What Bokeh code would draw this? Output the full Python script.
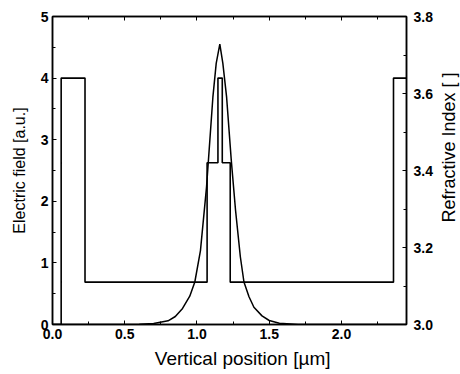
import math
from bokeh.plotting import figure
from bokeh.layouts import row
from bokeh.models import Range1d, LinearAxis, FixedTicker, CustomJSTickFormatter
from bokeh.core.properties import value
from bokeh.embed import file_html
from bokeh.resources import INLINE

# Electric field profile (left axis, a.u.)
field_x = [0.0, 0.5, 0.6, 0.7, 0.8, 0.85, 0.9, 0.95, 0.985, 1.024, 1.066, 1.11, 1.133, 1.158,
           1.179, 1.205, 1.2375, 1.267, 1.30, 1.325, 1.36, 1.394, 1.45, 1.5, 1.57, 1.7, 2.45]
field_y = [0.0, 0.0, 0.005, 0.015, 0.06, 0.13, 0.26, 0.46, 0.69, 1.2, 2.23, 3.69, 4.24, 4.55,
           4.24, 3.69, 2.66, 1.85, 1.1, 0.69, 0.45, 0.28, 0.14, 0.065, 0.02, 0.0, 0.0]

# Refractive index profile (right axis), step boundaries and levels
index_x = [0.0, 0.06, 0.06, 0.225, 0.225, 1.07, 1.07, 1.145, 1.145, 1.175, 1.175, 1.23, 1.23,
           2.36, 2.36, 2.45]
index_n = [3.0, 3.0, 3.64, 3.64, 3.11, 3.11, 3.42, 3.42, 3.64, 3.64, 3.42, 3.42, 3.11,
           3.11, 3.64, 3.64]

x_ticks = [0.0, 0.5, 1.0, 1.5, 2.0]
x_minor = [0.25, 0.75, 1.25, 1.75, 2.25]
left_ticks = [0, 1, 2, 3, 4, 5]
right_ticks = [3.0, 3.2, 3.4, 3.6, 3.8]

x_title = "Vertical position [µm]"
left_title = "Electric field [a.u.]"
right_title = "Refractive Index [ ]"

FONT = "Liberation Sans"
PAD = "\u00a0"

p = figure(width=436, height=374, output_backend="svg", toolbar_location=None,
           x_range=Range1d(0.0, 2.45), y_range=Range1d(0, 5),
           x_axis_location=None, y_axis_location=None,
           min_border_left=52, min_border_right=30, min_border_top=16, min_border_bottom=50)
p.extra_y_ranges = {"n": Range1d(3.0, 3.8)}
p.xgrid.visible = False
p.ygrid.visible = False
p.outline_line_color = "black"
p.outline_line_width = 1.5
p.background_fill_color = "white"
p.border_fill_color = "white"

p.line(field_x, field_y, line_color="black", line_width=1.5)
p.line(index_x, index_n, line_color="black", line_width=1.6, y_range_name="n")

bottom = LinearAxis(ticker=FixedTicker(ticks=x_ticks, minor_ticks=x_minor),
                    formatter=CustomJSTickFormatter(code="return tick.toFixed(1);"))
left = LinearAxis(ticker=FixedTicker(ticks=left_ticks, minor_ticks=[0.5, 1.5, 2.5, 3.5, 4.5]),
                  formatter=CustomJSTickFormatter(code="return tick.toFixed(0);"))
right = LinearAxis(y_range_name="n",
                   ticker=FixedTicker(ticks=right_ticks, minor_ticks=[3.1, 3.3, 3.5, 3.7]),
                   formatter=CustomJSTickFormatter(code="return tick.toFixed(1);"))
top = LinearAxis(ticker=FixedTicker(ticks=x_ticks, minor_ticks=x_minor),
                 formatter=CustomJSTickFormatter(code="return '';"))
p.add_layout(bottom, "below")
p.add_layout(left, "left")
p.add_layout(right, "right")
p.add_layout(top, "above")

for ax in [bottom, left, right, top]:
    ax.major_tick_in = 4
    ax.major_tick_out = 0
    ax.minor_tick_in = 3
    ax.minor_tick_out = 0
    ax.axis_line_color = "black"
    ax.axis_line_width = 1.5
    ax.major_tick_line_color = "black"
    ax.minor_tick_line_color = "black"
    ax.major_label_text_font = FONT
    ax.major_label_text_font_style = "bold"
    ax.major_label_text_font_size = "14px"
    ax.major_label_text_color = "black"
    ax.axis_label_text_font = FONT
    ax.axis_label_text_font_style = "normal"
    ax.axis_label_text_color = "black"
    ax.major_label_standoff = 4

top.major_label_text_font_size = "0px"
top.major_label_standoff = 0

bottom.axis_label = PAD * 5 + x_title
bottom.axis_label_text_font_size = "19px"
bottom.axis_label_standoff = 6

left.axis_label = left_title
left.axis_label_text_font_size = "16px"
left.axis_label_standoff = 10

right.major_label_standoff = 7

# narrow strip to the right carrying the right-axis title (reads bottom-to-top)
t = figure(width=24, height=374, output_backend="svg", toolbar_location=None,
           x_range=Range1d(0, 1), y_range=Range1d(0, 374),
           x_axis_location=None, y_axis_location=None,
           min_border_left=0, min_border_right=0, min_border_top=0, min_border_bottom=0)
t.xgrid.visible = False
t.ygrid.visible = False
t.outline_line_color = None
t.background_fill_color = "white"
t.border_fill_color = "white"
t.text(x=[0.54], y=[215.0], text=[right_title], angle=math.pi / 2,
       text_align="center", text_baseline="middle", text_color="black",
       text_font=value(FONT), text_font_size=value("18px"))

layout = row(p, t, spacing=0)
open("out.html", "w").write(file_html(layout, INLINE))
